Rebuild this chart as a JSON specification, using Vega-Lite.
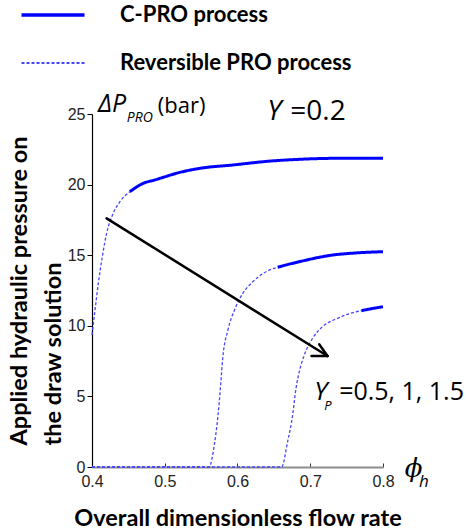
{
  "$schema": "https://vega.github.io/schema/vega-lite/v6.json",
  "width": 291,
  "height": 353,
  "autosize": {"type": "none"},
  "padding": {"left": 92, "top": 114, "right": 84, "bottom": 63},
  "background": "white",
  "config": {"view": {"stroke": null}, "font": "Liberation Sans"},
  "datasets": {
    "curves": [
      {"seg": "A-rev", "proc": "Reversible PRO process", "phi": 0.4, "dp": 9.35},
      {"seg": "A-rev", "proc": "Reversible PRO process", "phi": 0.4041, "dp": 11.1},
      {"seg": "A-rev", "proc": "Reversible PRO process", "phi": 0.4087, "dp": 13.0},
      {"seg": "A-rev", "proc": "Reversible PRO process", "phi": 0.4142, "dp": 14.9},
      {"seg": "A-rev", "proc": "Reversible PRO process", "phi": 0.4201, "dp": 16.55},
      {"seg": "A-rev", "proc": "Reversible PRO process", "phi": 0.4292, "dp": 17.97},
      {"seg": "A-rev", "proc": "Reversible PRO process", "phi": 0.4384, "dp": 18.79},
      {"seg": "A-rev", "proc": "Reversible PRO process", "phi": 0.452, "dp": 19.5},
      {"seg": "A-cpro", "proc": "C-PRO process", "phi": 0.452, "dp": 19.5},
      {"seg": "A-cpro", "proc": "C-PRO process", "phi": 0.4703, "dp": 20.09},
      {"seg": "A-cpro", "proc": "C-PRO process", "phi": 0.4863, "dp": 20.33},
      {"seg": "A-cpro", "proc": "C-PRO process", "phi": 0.5, "dp": 20.55},
      {"seg": "A-cpro", "proc": "C-PRO process", "phi": 0.516, "dp": 20.8},
      {"seg": "A-cpro", "proc": "C-PRO process", "phi": 0.548, "dp": 21.15},
      {"seg": "A-cpro", "proc": "C-PRO process", "phi": 0.5936, "dp": 21.39},
      {"seg": "A-cpro", "proc": "C-PRO process", "phi": 0.646, "dp": 21.67},
      {"seg": "A-cpro", "proc": "C-PRO process", "phi": 0.685, "dp": 21.79},
      {"seg": "A-cpro", "proc": "C-PRO process", "phi": 0.7306, "dp": 21.86},
      {"seg": "A-cpro", "proc": "C-PRO process", "phi": 0.8, "dp": 21.87},
      {"seg": "B-rev", "proc": "Reversible PRO process", "phi": 0.4, "dp": 0},
      {"seg": "B-rev", "proc": "Reversible PRO process", "phi": 0.5607, "dp": 0},
      {"seg": "B-rev", "proc": "Reversible PRO process", "phi": 0.5685, "dp": 1.68},
      {"seg": "B-rev", "proc": "Reversible PRO process", "phi": 0.573, "dp": 3.56},
      {"seg": "B-rev", "proc": "Reversible PRO process", "phi": 0.5763, "dp": 5.45},
      {"seg": "B-rev", "proc": "Reversible PRO process", "phi": 0.5799, "dp": 7.81},
      {"seg": "B-rev", "proc": "Reversible PRO process", "phi": 0.5868, "dp": 9.7},
      {"seg": "B-rev", "proc": "Reversible PRO process", "phi": 0.5959, "dp": 11.12},
      {"seg": "B-rev", "proc": "Reversible PRO process", "phi": 0.6073, "dp": 12.3},
      {"seg": "B-rev", "proc": "Reversible PRO process", "phi": 0.621, "dp": 13.12},
      {"seg": "B-rev", "proc": "Reversible PRO process", "phi": 0.6393, "dp": 13.83},
      {"seg": "B-rev", "proc": "Reversible PRO process", "phi": 0.6552, "dp": 14.15},
      {"seg": "B-cpro", "proc": "C-PRO process", "phi": 0.6552, "dp": 14.15},
      {"seg": "B-cpro", "proc": "C-PRO process", "phi": 0.685, "dp": 14.54},
      {"seg": "B-cpro", "proc": "C-PRO process", "phi": 0.7306, "dp": 15.01},
      {"seg": "B-cpro", "proc": "C-PRO process", "phi": 0.76, "dp": 15.15},
      {"seg": "B-cpro", "proc": "C-PRO process", "phi": 0.8, "dp": 15.25},
      {"seg": "C-rev", "proc": "Reversible PRO process", "phi": 0.4, "dp": 0},
      {"seg": "C-rev", "proc": "Reversible PRO process", "phi": 0.6607, "dp": 0},
      {"seg": "C-rev", "proc": "Reversible PRO process", "phi": 0.6689, "dp": 1.8},
      {"seg": "C-rev", "proc": "Reversible PRO process", "phi": 0.6758, "dp": 3.68},
      {"seg": "C-rev", "proc": "Reversible PRO process", "phi": 0.6804, "dp": 5.57},
      {"seg": "C-rev", "proc": "Reversible PRO process", "phi": 0.6849, "dp": 6.75},
      {"seg": "C-rev", "proc": "Reversible PRO process", "phi": 0.6918, "dp": 7.93},
      {"seg": "C-rev", "proc": "Reversible PRO process", "phi": 0.7032, "dp": 9.11},
      {"seg": "C-rev", "proc": "Reversible PRO process", "phi": 0.7169, "dp": 9.94},
      {"seg": "C-rev", "proc": "Reversible PRO process", "phi": 0.7374, "dp": 10.53},
      {"seg": "C-rev", "proc": "Reversible PRO process", "phi": 0.7557, "dp": 10.89},
      {"seg": "C-rev", "proc": "Reversible PRO process", "phi": 0.7703, "dp": 11.07},
      {"seg": "C-cpro", "proc": "C-PRO process", "phi": 0.7703, "dp": 11.07},
      {"seg": "C-cpro", "proc": "C-PRO process", "phi": 0.785, "dp": 11.22},
      {"seg": "C-cpro", "proc": "C-PRO process", "phi": 0.8, "dp": 11.35}
    ],
    "arrow": [
      {"phi": 0.4201, "dp": 17.61, "phi2": 0.7237, "dp2": 7.86},
      {"phi": 0.7123, "dp": 8.69, "phi2": 0.7237, "dp2": 7.86},
      {"phi": 0.7018, "dp": 7.86, "phi2": 0.7237, "dp2": 7.86}
    ]
  },
  "layer": [
    {
      "data": {"name": "curves"},
      "mark": {"type": "line", "interpolate": "monotone"},
      "encoding": {
        "x": {
          "field": "phi",
          "type": "quantitative",
          "scale": {"domain": [0.4, 0.8], "nice": false, "zero": false},
          "axis": {
            "title": "Overall dimensionless flow rate",
            "values": [0.4, 0.5, 0.6, 0.7, 0.8],
            "format": ".1f",
            "grid": false,
            "labelFlush": false,
            "domainColor": "#8c8c8c",
            "domainWidth": 2,
            "tickColor": "#333333",
            "tickSize": -4,
            "labelPadding": 10,
            "labelFont": "Liberation Sans",
            "labelFontSize": 16,
            "labelColor": "#222222",
            "titleFont": "Lato",
            "titleFontWeight": "bold",
            "titleFontSize": 23.5,
            "titleColor": "black",
            "titlePadding": 17
          }
        },
        "y": {
          "field": "dp",
          "type": "quantitative",
          "scale": {"domain": [0, 25], "nice": false, "zero": false},
          "axis": {
            "title": ["Applied hydraulic pressure on", "the draw solution"],
            "values": [0, 5, 10, 15, 20, 25],
            "grid": false,
            "labelFlush": false,
            "domainColor": "black",
            "domainWidth": 1.2,
            "tickColor": "black",
            "tickSize": 5,
            "labelPadding": 2,
            "labelFont": "Liberation Sans",
            "labelFontSize": 16,
            "labelColor": "#222222",
            "titleFont": "Lato",
            "titleFontWeight": "bold",
            "titleFontSize": 23.5,
            "titleColor": "black",
            "titleAlign": "left",
            "titleBaseline": "alphabetic",
            "titleLineHeight": 34,
            "titleX": -66,
            "titleY": 331
          }
        },
        "detail": {"field": "seg"},
        "color": {
          "field": "proc",
          "type": "nominal",
          "scale": {"domain": ["C-PRO process", "Reversible PRO process"], "range": ["#0000ff", "#4646ff"]},
          "legend": {
            "orient": "none",
            "legendX": -50,
            "legendY": -110,
            "title": null,
            "symbolType": "stroke",
            "symbolSize": 3969,
            "labelFont": "Lato",
            "labelFontWeight": "bold",
            "labelFontSize": 22,
            "labelColor": "black",
            "labelLimit": 400,
            "labelOffset": 56,
            "rowPadding": 26,
            "encode": {
              "symbols": {"update": {"strokeWidth": {"signal": "datum.value === 'C-PRO process' ? 3.5 : 2"}}}
            }
          }
        },
        "strokeDash": {
          "field": "proc",
          "type": "nominal",
          "scale": {"domain": ["C-PRO process", "Reversible PRO process"], "range": [[1, 0], [3, 2]]}
        },
        "strokeWidth": {
          "condition": {"test": "datum.proc === 'C-PRO process'", "value": 3},
          "value": 1.3
        }
      }
    },
    {
      "data": {"name": "arrow"},
      "mark": {"type": "rule", "color": "black", "strokeWidth": 2.5, "strokeCap": "round"},
      "encoding": {
        "x": {"field": "phi", "type": "quantitative"},
        "y": {"field": "dp", "type": "quantitative"},
        "x2": {"field": "phi2"},
        "y2": {"field": "dp2"}
      }
    },
    {
      "data": {"values": [{"t": "ΔP", "phi": 0.4082, "dp": 25.14}]},
      "mark": {"type": "text", "font": "Open Sans", "fontStyle": "italic", "fontSize": 25, "align": "left", "baseline": "alphabetic", "color": "black"},
      "encoding": {
        "x": {"field": "phi", "type": "quantitative"},
        "y": {"field": "dp", "type": "quantitative"},
        "text": {"field": "t"}
      }
    },
    {
      "data": {"values": [{"t": "PRO", "phi": 0.4479, "dp": 24.43}]},
      "mark": {"type": "text", "font": "Open Sans", "fontStyle": "italic", "fontSize": 14, "align": "left", "baseline": "alphabetic", "color": "black"},
      "encoding": {
        "x": {"field": "phi", "type": "quantitative"},
        "y": {"field": "dp", "type": "quantitative"},
        "text": {"field": "t"}
      }
    },
    {
      "data": {"values": [{"t": "(bar)", "phi": 0.4905, "dp": 25.07}]},
      "mark": {"type": "text", "font": "Open Sans", "fontSize": 22, "align": "left", "baseline": "alphabetic", "color": "black"},
      "encoding": {
        "x": {"field": "phi", "type": "quantitative"},
        "y": {"field": "dp", "type": "quantitative"},
        "text": {"field": "t"}
      }
    },
    {
      "data": {"values": [{"t": "Y", "phi": 0.641, "dp": 24.6}]},
      "mark": {"type": "text", "font": "Open Sans", "fontStyle": "italic", "fontSize": 28, "align": "left", "baseline": "alphabetic", "color": "black"},
      "encoding": {
        "x": {"field": "phi", "type": "quantitative"},
        "y": {"field": "dp", "type": "quantitative"},
        "text": {"field": "t"}
      }
    },
    {
      "data": {"values": [{"t": "=0.2", "phi": 0.6726, "dp": 24.6}]},
      "mark": {"type": "text", "font": "Open Sans", "fontSize": 28, "align": "left", "baseline": "alphabetic", "color": "black"},
      "encoding": {
        "x": {"field": "phi", "type": "quantitative"},
        "y": {"field": "dp", "type": "quantitative"},
        "text": {"field": "t"}
      }
    },
    {
      "data": {"values": [{"t": "Y", "phi": 0.7055, "dp": 4.74}]},
      "mark": {"type": "text", "font": "Open Sans", "fontStyle": "italic", "fontSize": 26, "align": "left", "baseline": "alphabetic", "color": "black"},
      "encoding": {
        "x": {"field": "phi", "type": "quantitative"},
        "y": {"field": "dp", "type": "quantitative"},
        "text": {"field": "t"}
      }
    },
    {
      "data": {"values": [{"t": "P", "phi": 0.7192, "dp": 4.04}]},
      "mark": {"type": "text", "font": "Open Sans", "fontStyle": "italic", "fontSize": 13, "align": "left", "baseline": "alphabetic", "color": "black"},
      "encoding": {
        "x": {"field": "phi", "type": "quantitative"},
        "y": {"field": "dp", "type": "quantitative"},
        "text": {"field": "t"}
      }
    },
    {
      "data": {"values": [{"t": "=0.5, 1, 1.5", "phi": 0.7397, "dp": 4.74}]},
      "mark": {"type": "text", "font": "Open Sans", "fontSize": 25, "align": "left", "baseline": "alphabetic", "color": "black"},
      "encoding": {
        "x": {"field": "phi", "type": "quantitative"},
        "y": {"field": "dp", "type": "quantitative"},
        "text": {"field": "t"}
      }
    },
    {
      "data": {"values": [{"t": "ϕ", "phi": 0.83, "dp": -0.71}]},
      "mark": {"type": "text", "font": "DejaVu Serif", "fontStyle": "italic", "fontSize": 26, "align": "left", "baseline": "alphabetic", "color": "black"},
      "encoding": {
        "x": {"field": "phi", "type": "quantitative"},
        "y": {"field": "dp", "type": "quantitative"},
        "text": {"field": "t"}
      }
    },
    {
      "data": {"values": [{"t": "h", "phi": 0.8496, "dp": -1.42}]},
      "mark": {"type": "text", "font": "Open Sans", "fontStyle": "italic", "fontSize": 17, "align": "left", "baseline": "alphabetic", "color": "black"},
      "encoding": {
        "x": {"field": "phi", "type": "quantitative"},
        "y": {"field": "dp", "type": "quantitative"},
        "text": {"field": "t"}
      }
    }
  ]
}
